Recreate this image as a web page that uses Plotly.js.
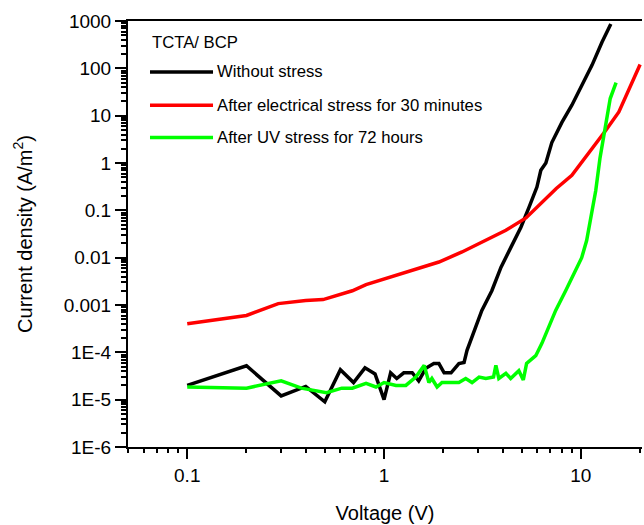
<!DOCTYPE html>
<html>
<head>
<meta charset="utf-8">
<script src="https://cdn.plot.ly/plotly-3.0.1.min.js"></script>
<style>
html,body{margin:0;padding:0;background:#fff;}
#wrap{position:relative;width:644px;height:525px;}
#chart{position:absolute;left:0;top:0;width:644px;height:525px;}
#ticks{position:absolute;left:0;top:0;width:644px;height:525px;pointer-events:none;z-index:1000;}
.modebar-container,.modebar{display:none !important;}
</style>
</head>
<body>
<div id="wrap"><div id="chart"></div><svg id="ticks" width="644" height="525" xmlns="http://www.w3.org/2000/svg"></svg></div>
<script>
// ---- data ----
const legendTitle = "TCTA/ BCP";
const seriesNames = ["Without stress", "After electrical stress for 30 minutes", "After UV stress for 72 hours"];
const seriesColors = ["#000000", "#ff0000", "#00ff00"];

const voltageNoStress = [0.1, 0.2, 0.3, 0.4, 0.5, 0.6, 0.7, 0.8, 0.9, 1.0, 1.08, 1.16, 1.26, 1.39, 1.5, 1.63, 1.79, 1.9, 2.02, 2.19, 2.4, 2.55, 2.64, 2.8, 2.9, 3.14, 3.53, 3.93, 4.41, 4.96, 5.45, 5.98, 6.26, 6.64, 7.12, 8.01, 9.0, 10.1, 11.4, 12.8, 14.2];
const currentNoStress = [2.0e-5, 5.2e-5, 1.2e-5, 1.9e-5, 9e-6, 4.3e-5, 2.3e-5, 4.7e-5, 3.5e-5, 1.0e-5, 3.7e-5, 2.8e-5, 3.7e-5, 3.7e-5, 2.5e-5, 4.6e-5, 5.8e-5, 5.8e-5, 3.7e-5, 3.7e-5, 5.8e-5, 6.1e-5, 1.1e-4, 2.2e-4, 3.2e-4, 7.7e-4, 2.0e-3, 6.3e-3, 1.65e-2, 4.4e-2, 0.115, 0.31, 0.7, 1.0, 2.7, 7.2, 16.6, 44, 117, 355, 860];

const voltageElectrical = [0.1, 0.2, 0.29, 0.4, 0.49, 0.69, 0.81, 1.15, 1.69, 1.9, 2.49, 2.8, 3.7, 4.16, 5.26, 7.12, 7.5, 9.0, 10.96, 13.4, 15.6, 16.2, 20.0];
const currentElectrical = [4.0e-4, 6.0e-4, 1.07e-3, 1.25e-3, 1.3e-3, 2.0e-3, 2.7e-3, 4.2e-3, 6.8e-3, 8.1e-3, 1.32e-2, 1.68e-2, 2.96e-2, 3.8e-2, 6.9e-2, 0.23, 0.29, 0.55, 1.6, 4.9, 12, 17, 120];

const voltageUV = [0.1, 0.2, 0.3, 0.38, 0.51, 0.61, 0.69, 0.81, 0.91, 1.0, 1.15, 1.29, 1.45, 1.6, 1.69, 1.75, 1.86, 1.97, 2.4, 2.6, 2.8, 3.04, 3.29, 3.6, 3.7, 3.83, 4.16, 4.4, 4.84, 5.1, 5.3, 5.9, 6.34, 6.64, 6.87, 7.45, 8.37, 9.2, 10.1, 10.7, 11.4, 11.9, 12.5, 13.3, 14.1, 15.1];
const currentUV = [1.85e-5, 1.75e-5, 2.5e-5, 1.75e-5, 1.4e-5, 1.75e-5, 1.75e-5, 2.2e-5, 1.85e-5, 2.3e-5, 2.0e-5, 2.0e-5, 3.0e-5, 5.3e-5, 2.3e-5, 2.8e-5, 1.85e-5, 2.3e-5, 2.3e-5, 2.8e-5, 2.3e-5, 3.0e-5, 2.8e-5, 3.0e-5, 5.3e-5, 2.8e-5, 3.6e-5, 2.8e-5, 4.1e-5, 2.6e-5, 5.8e-5, 8.5e-5, 1.55e-4, 2.5e-4, 3.2e-4, 7.7e-4, 2.0e-3, 4.6e-3, 1.0e-2, 2.3e-2, 8.6e-2, 0.26, 1.25, 6.2, 23, 50];

const xTickVals = [0.1, 1, 10];
const xTickText = ["0.1", "1", "10"];
const yTickVals = [1e-6, 1e-5, 1e-4, 1e-3, 1e-2, 1e-1, 1, 10, 100, 1000];
const yTickText = ["1E-6", "1E-5", "1E-4", "0.001", "0.01", "0.1", "1", "10", "100", "1000"];
const xTitle = "Voltage (V)";
const yTitle = "Current density (A/m<sup>2</sup>)";

// ---- minor tick positions ----
const xMinor = [];
for (let e = -2; e <= 1; e++) for (let m = 2; m <= 9; m++) { const v = m * Math.pow(10, e); if (v >= 0.05 && v <= 20.5) xMinor.push(v); }
const yMinor = [];
for (let e = -6; e <= 2; e++) for (let m = 2; m <= 9; m++) yMinor.push(m * Math.pow(10, e));

const FONT = "Liberation Sans, Arial, sans-serif";
const X_RANGE = [Math.log10(0.05), Math.log10(20.45)];
const Y_RANGE = [-6, 3];
const MARGIN = {l: 128, r: 2, t: 21, b: 78};
const xs = [voltageNoStress, voltageElectrical, voltageUV];
const ys = [currentNoStress, currentElectrical, currentUV];

const traces = xs.map((x, i) => ({
  x: x, y: ys[i], type: "scatter", mode: "lines", name: seriesNames[i],
  line: {color: seriesColors[i], width: 3.5}, showlegend: false, hoverinfo: "skip"
}));

// manual legend (positions in paper coords)
const legY = [0.8803, 0.8021, 0.7263];
const shapes = seriesNames.map((n, i) => ({
  type: "line", xref: "paper", yref: "paper", x0: 0.0428, x1: 0.1654, y0: legY[i], y1: legY[i],
  line: {color: seriesColors[i], width: 3.5}
}));
const annotations = seriesNames.map((n, i) => ({
  xref: "paper", yref: "paper", x: 0.169, y: legY[i], xanchor: "left", yanchor: "middle",
  text: n, showarrow: false, font: {family: FONT, size: 16.7, color: "#000"}
}));
annotations.push({
  xref: "paper", yref: "paper", x: 0.043, y: 0.9507, xanchor: "left", yanchor: "middle",
  text: legendTitle, showarrow: false, font: {family: FONT, size: 16.7, color: "#000"}
});

const layout = {
  width: 644, height: 525,
  margin: MARGIN,
  font: {family: FONT, color: "#000"},
  showlegend: false,
  xaxis: {
    type: "log", range: X_RANGE,
    tickmode: "array", tickvals: xTickVals, ticktext: xTickText,
    ticks: "outside", ticklen: 10, tickwidth: 2, tickcolor: "#000",
    showline: true, linewidth: 2, linecolor: "#000", mirror: true,
    showgrid: false, zeroline: false,
    tickfont: {family: FONT, size: 19, color: "#000"},
    title: {text: xTitle, font: {family: FONT, size: 20, color: "#000"}, standoff: 21}
  },
  yaxis: {
    type: "log", range: Y_RANGE,
    tickmode: "array", tickvals: yTickVals, ticktext: yTickText,
    ticks: "outside", ticklen: 11, tickwidth: 2, tickcolor: "#000",
    showline: true, linewidth: 2, linecolor: "#000", mirror: false,
    showgrid: false, zeroline: false,
    tickfont: {family: FONT, size: 19, color: "#000"},
    title: {text: yTitle, font: {family: FONT, size: 20, color: "#000"}, standoff: 26}
  },
  shapes: shapes,
  annotations: annotations
};

// Tick marks: drawn in an overlay using the library's own axis scales
function drawTickOverlay(gd) {
  const svg = document.getElementById("ticks");
  while (svg.firstChild) svg.removeChild(svg.firstChild);
  const xa = gd._fullLayout.xaxis, ya = gd._fullLayout.yaxis;
  const bottom = ya._offset + ya._length, left = xa._offset;
  const NS = "http://www.w3.org/2000/svg";
  function line(x1, y1, x2, y2, w) {
    const l = document.createElementNS(NS, "line");
    l.setAttribute("x1", x1); l.setAttribute("y1", y1);
    l.setAttribute("x2", x2); l.setAttribute("y2", y2);
    l.setAttribute("stroke", "#000"); l.setAttribute("stroke-width", w);
    l.setAttribute("shape-rendering", "crispEdges");
    svg.appendChild(l);
  }
  xTickVals.forEach(v => { const p = Math.round(xa._offset + xa.d2p(v)); line(p, bottom, p, bottom + 11, 2); });
  xMinor.forEach(v => { const p = Math.round(xa._offset + xa.d2p(v)); line(p, bottom, p, bottom + 6, 1.5); });
  yTickVals.forEach(v => { const p = Math.round(ya._offset + ya.d2p(v)); line(left, p, left - 12, p, 2); });
  yMinor.forEach(v => { const p = Math.round(ya._offset + ya.d2p(v)); line(left, p, left - 7, p, 1.5); });
}

Plotly.newPlot("chart", traces, layout, {displayModeBar: false}).then(function (gd) {
  drawTickOverlay(gd);
  return gd;
});
</script>
</body>
</html>
